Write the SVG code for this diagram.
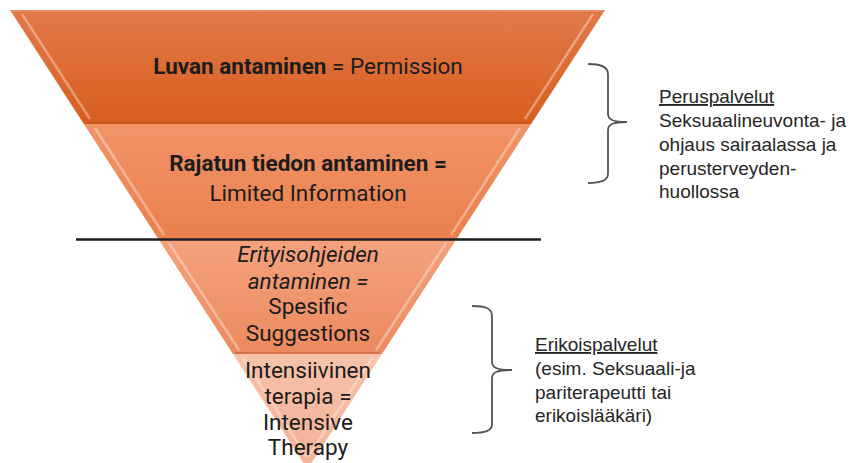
<svg xmlns="http://www.w3.org/2000/svg" width="851" height="463" viewBox="0 0 851 463">
  <defs>
    <linearGradient id="g1" x1="0" y1="0" x2="0" y2="1">
      <stop offset="0" stop-color="#E2794A"/>
      <stop offset="1" stop-color="#D85E1E"/>
    </linearGradient>
    <linearGradient id="g2" x1="0" y1="0" x2="0" y2="1">
      <stop offset="0" stop-color="#F29468"/>
      <stop offset="1" stop-color="#E9804D"/>
    </linearGradient>
    <linearGradient id="g3" x1="0" y1="0" x2="0" y2="1">
      <stop offset="0" stop-color="#F4A27D"/>
      <stop offset="1" stop-color="#EC8A5E"/>
    </linearGradient>
    <linearGradient id="g4" x1="0" y1="0" x2="0" y2="1">
      <stop offset="0" stop-color="#F8C2AA"/>
      <stop offset="1" stop-color="#F4B094"/>
    </linearGradient>
  </defs>
  <style>
    .pt { font-family: Roboto, "Liberation Sans", sans-serif; font-size: 22.5px; fill: #1c1c1c; text-anchor: middle; }
    .b { font-weight: bold; }
    .it { font-style: italic; }
    .rt { font-family: "Liberation Sans", Arial, sans-serif; font-size: 19px; fill: #262626; }
    .brace { fill: none; stroke: #555; stroke-width: 1.8; }
    .hl { stroke: #FFFFFF; stroke-opacity: 0.35; stroke-width: 2.5; fill: none; }
    .sh { stroke: #B0461A; stroke-opacity: 0.35; stroke-width: 2; fill: none; }
  </style>

  <g id="band1">
    <polygon points="10,10 605,10 531.1,124 83.9,124" fill="url(#g1)"/>
    <line x1="12" y1="11" x2="603" y2="11" stroke="#F2A27E" stroke-opacity="0.6" stroke-width="1.5"/>
    <line x1="22" y1="14" x2="90" y2="119" class="hl"/>
    <line x1="593" y1="14" x2="525" y2="119" class="hl"/>
    <line x1="86" y1="123" x2="529" y2="123" class="sh"/>
    <text class="pt" x="308" y="74"><tspan class="b">Luvan antaminen</tspan> = Permission</text>
  </g>

  <g id="band2">
    <polygon points="83.9,124 531.1,124 456.6,239 158.4,239" fill="url(#g2)"/>
    <line x1="95" y1="128" x2="164" y2="235" class="hl"/>
    <line x1="520" y1="128" x2="451" y2="235" class="hl"/>
    <text class="pt b" x="308" y="171">Rajatun tiedon antaminen =</text>
    <text class="pt" x="308" y="201">Limited Information</text>
  </g>

  <g id="band3">
    <polygon points="158.4,239 456.6,239 382,354 233,354" fill="url(#g3)"/>
    <line x1="169" y1="243" x2="239" y2="350" class="hl"/>
    <line x1="446" y1="243" x2="376" y2="350" class="hl"/>
    <line x1="235" y1="353" x2="380" y2="353" class="sh"/>
    <text class="pt it" x="308" y="262">Erityisohjeiden</text>
    <text class="pt it" x="308" y="289">antaminen =</text>
    <text class="pt" x="308" y="314">Spesific</text>
    <text class="pt" x="308" y="341">Suggestions</text>
  </g>

  <g id="band4">
    <polygon points="233,354 382,354 307.5,469" fill="url(#g4)"/>
    <line x1="243" y1="358" x2="307" y2="457" class="hl"/>
    <line x1="372" y1="358" x2="308" y2="457" class="hl"/>
    <text class="pt" x="308" y="378">Intensiivinen</text>
    <text class="pt" x="308" y="404">terapia =</text>
    <text class="pt" x="308" y="430">Intensive</text>
    <text class="pt" x="308" y="455">Therapy</text>
  </g>

  <g id="divider">
    <line x1="76" y1="239.5" x2="541" y2="239.5" stroke="#1e1e1e" stroke-width="2.5"/>
  </g>

  <g id="connectors">
    <path class="brace" d="M588,64 C600,64 608,66 608,74 L608,114 C608,120 614,122 627,122 C614,122 608,124 608,130 L608,174 C608,181 600,183 588,183"/>
    <path class="brace" d="M472,306 C485,306 492,308 492,316 L492,362 C492,368 498,370 512,370 C498,370 492,372 492,378 L492,424 C492,431 485,433 472,433"/>
  </g>

  <g id="peruspalvelut">
    <text class="rt" x="659" y="103" text-decoration="underline">Peruspalvelut</text>
    <text class="rt" x="659" y="127">Seksuaalineuvonta- ja</text>
    <text class="rt" x="659" y="151">ohjaus sairaalassa ja</text>
    <text class="rt" x="659" y="175">perusterveyden-</text>
    <text class="rt" x="659" y="198">huollossa</text>
  </g>

  <g id="erikoispalvelut">
    <text class="rt" x="535" y="351" text-decoration="underline">Erikoispalvelut</text>
    <text class="rt" x="535" y="375">(esim. Seksuaali-ja</text>
    <text class="rt" x="535" y="399">pariterapeutti tai</text>
    <text class="rt" x="535" y="422">erikoislääkäri)</text>
  </g>
</svg>
